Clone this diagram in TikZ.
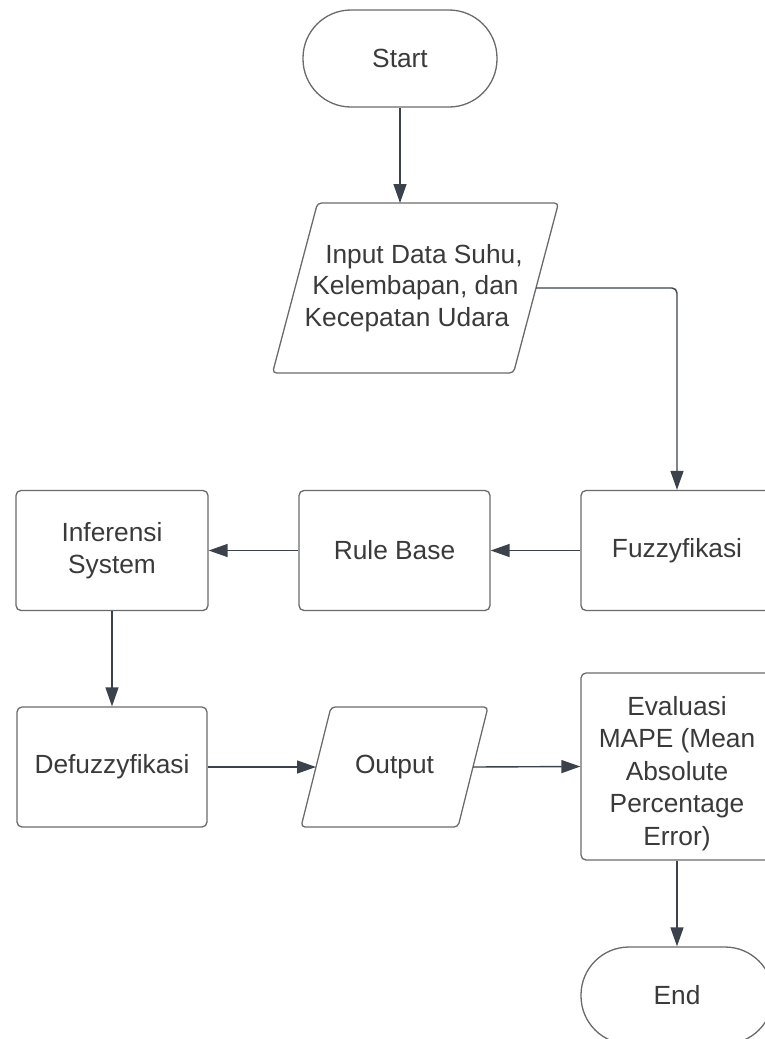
\documentclass[tikz,border=0pt]{standalone}
\usepackage{fontspec}
\setmainfont{Liberation Sans}
\usetikzlibrary{arrows.meta,backgrounds}
\definecolor{txt}{HTML}{3A3A3A}
\definecolor{edgec}{HTML}{6A6A6A}
\definecolor{conn}{HTML}{3B424C}
\begin{document}
\begin{tikzpicture}[x=1pt,y=-1pt,
  every node/.style={font=\fontsize{26.3}{31.5}\selectfont, text=txt},
  shapebase/.style={draw=edgec, line width=1.3pt, fill=white, inner sep=0pt, align=center},
  proc/.style={shapebase, rectangle, rounded corners=5pt},
  term/.style={shapebase, rectangle, rounded corners=48pt},
  iotext/.style={rectangle, inner sep=0pt, outer sep=0pt, align=center},
  ioshape/.style={draw=edgec, line width=1.3pt, fill=white, rounded corners=4pt},
  arr/.style={draw=conn, line width=1.4pt, -{Triangle[length=19pt,width=13pt]}}
]
\useasboundingbox (0,0) rectangle (765,1039);
\clip (0,0) rectangle (765,1039);

\node[term, minimum width=194pt, minimum height=97pt] (start) at (400,58.5) {Start};
\node[iotext, minimum width=241pt, minimum height=170pt] (input) at (415.5,288)
      {\hspace*{17pt}Input Data Suhu,\\Kelembapan, dan\\Kecepatan Udara\hspace*{17pt}};
\node[proc, minimum width=192pt, minimum height=120pt] (fuzzy) at (677,550.5) {Fuzzyfikasi};
\node[proc, minimum width=191pt, minimum height=120pt] (rule) at (394.5,550.5) {Rule Base};
\node[proc, minimum width=192pt, minimum height=120pt] (infer) at (112,550.5) {Inferensi\\System};
\node[proc, minimum width=190pt, minimum height=120pt] (defuzz) at (112,767) {Defuzzyfikasi};
\node[iotext, minimum width=157pt, minimum height=120pt] (output) at (394.5,767) {Output};
\node[proc, minimum width=192pt, minimum height=187pt, font=\fontsize{26.3}{32.5}\selectfont] (eval) at (677,766.5)
      {\rule{0pt}{33pt}Evaluasi\\MAPE (Mean\\Absolute\\Percentage\\Error)};
\node[term, minimum width=192pt, minimum height=97pt] (end) at (677,995.5) {End};

\begin{scope}[on background layer]
  \draw[ioshape] ([xshift=22.5pt]input.north west) -- ([xshift=22.5pt]input.north east)
    -- ([xshift=-22.5pt]input.south east) -- ([xshift=-22.5pt]input.south west) -- cycle;
  \draw[ioshape] ([xshift=15pt]output.north west) -- ([xshift=15pt]output.north east)
    -- ([xshift=-15pt]output.south east) -- ([xshift=-15pt]output.south west) -- cycle;
\end{scope}

\draw[arr] (start.south) -- (start.south |- input.north);
\draw[arr, rounded corners=5pt] (input.east) -| (fuzzy.north);
\draw[arr] (fuzzy.west) -- (rule.east);
\draw[arr] (rule.west) -- (infer.east);
\draw[arr] (infer.south) -- (defuzz.north);
\draw[arr] (defuzz.east) -- (output.west);
\draw[arr] (output.east) -- (eval.west);
\draw[arr] (eval.south) -- (end.north);
\end{tikzpicture}
\end{document}
